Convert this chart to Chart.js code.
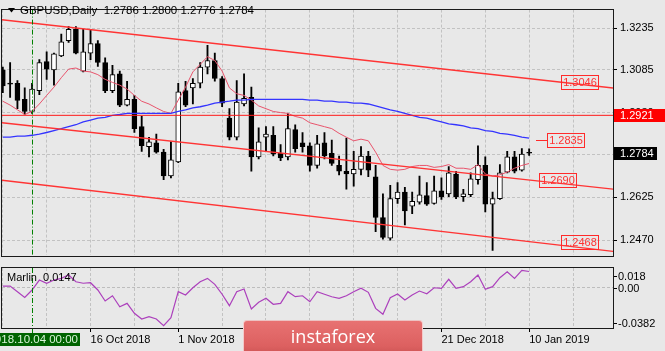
<!DOCTYPE html>
<html>
<head>
<meta charset="utf-8">
<title>GBPUSD Daily</title>
<script src="https://cdn.jsdelivr.net/npm/chart.js@4.4.1/dist/chart.umd.min.js"></script>
<style>
  html, body { margin: 0; padding: 0; background: #e8e8e8; }
  #wrap { position: relative; width: 665px; height: 351px; overflow: hidden; background: #e8e8e8; }
  canvas { position: absolute; left: 0; }
  #main { top: 0; }
  #sub { top: 265px; }
  .logo {
    position: absolute; left: 243px; top: 320px; width: 180px; height: 38px;
    box-sizing: border-box; border: 1px solid rgba(255,255,255,0.65); border-radius: 4px;
    background: linear-gradient(#e87272, #dc6060 70%, #c85050);
    color: #fff; font: 18px "Open Sans", sans-serif; text-align: center; line-height: 30px;
  }
</style>
</head>
<body>
<div id="wrap">
  <canvas id="main" width="665" height="265"></canvas>
  <canvas id="sub" width="665" height="86"></canvas>
  <div class="logo">instaforex</div>
</div>
<script>
const FONT = '"Liberation Sans", Arial, sans-serif';

// one entry per daily bar: 0 = 28 Sep 2018 ... 72 = 10 Jan 2019
const open = [1.3085, 1.3037, 1.3037, 1.2979, 1.2935, 1.3010, 1.3115, 1.3085, 1.3136, 1.3191,
  1.3232, 1.3081, 1.3146, 1.3180, 1.3112, 1.3010, 1.3071, 1.2958, 1.2979, 1.2880,
  1.2808, 1.2822, 1.2788, 1.2702, 1.2753, 1.3010, 1.3020, 1.3037, 1.3095, 1.3119,
  1.3054, 1.2911, 1.2842, 1.2962, 1.2986, 1.2771, 1.2842, 1.2849, 1.2784, 1.2771,
  1.2870, 1.2822, 1.2811, 1.2740, 1.2822, 1.2784, 1.2740, 1.2719, 1.2709, 1.2726,
  1.2774, 1.2699, 1.2552, 1.2477, 1.2620, 1.2644, 1.2593, 1.2607, 1.2631, 1.2603,
  1.2648, 1.2637, 1.2709, 1.2627, 1.2634, 1.2689, 1.2740, 1.2600, 1.2620, 1.2716,
  1.2771, 1.2723, 1.2786];
const high = [1.3095, 1.3112, 1.3047, 1.3020, 1.3037, 1.3122, 1.3150, 1.3146, 1.3215, 1.3242,
  1.3242, 1.3232, 1.3232, 1.3191, 1.3129, 1.3102, 1.3081, 1.3044, 1.2993, 1.2917,
  1.2842, 1.2853, 1.2798, 1.2825, 1.3037, 1.3044, 1.3054, 1.3112, 1.3174, 1.3146,
  1.3061, 1.2945, 1.3047, 1.3071, 1.3023, 1.2876, 1.2880, 1.2880, 1.2815, 1.2928,
  1.2887, 1.2859, 1.2822, 1.2849, 1.2859, 1.2832, 1.2774, 1.2839, 1.2791, 1.2808,
  1.2791, 1.2740, 1.2637, 1.2668, 1.2678, 1.2661, 1.2644, 1.2702, 1.2678, 1.2702,
  1.2695, 1.2736, 1.2719, 1.2654, 1.2713, 1.2811, 1.2771, 1.2644, 1.2743, 1.2791,
  1.2791, 1.2801, 1.2800];
const low = [1.3003, 1.2986, 1.2945, 1.2924, 1.2928, 1.2996, 1.3051, 1.3030, 1.3133, 1.3184,
  1.3143, 1.3078, 1.3122, 1.3098, 1.3003, 1.3003, 1.2952, 1.2955, 1.2859, 1.2791,
  1.2771, 1.2784, 1.2689, 1.2695, 1.2750, 1.2952, 1.2962, 1.3020, 1.3071, 1.3044,
  1.2952, 1.2832, 1.2832, 1.2955, 1.2719, 1.2764, 1.2791, 1.2774, 1.2757, 1.2760,
  1.2788, 1.2788, 1.2719, 1.2730, 1.2764, 1.2740, 1.2706, 1.2654, 1.2665, 1.2706,
  1.2699, 1.2501, 1.2474, 1.2470, 1.2603, 1.2525, 1.2566, 1.2600, 1.2596, 1.2600,
  1.2617, 1.2627, 1.2620, 1.2610, 1.2627, 1.2672, 1.2572, 1.2433, 1.2617, 1.2713,
  1.2713, 1.2719, 1.2776];
const close = [1.3027, 1.3034, 1.2975, 1.2935, 1.3016, 1.3112, 1.3088, 1.3143, 1.3187, 1.3232,
  1.3146, 1.3150, 1.3180, 1.3112, 1.3010, 1.3068, 1.2958, 1.2979, 1.2873, 1.2811,
  1.2825, 1.2788, 1.2702, 1.2760, 1.3006, 1.2958, 1.3037, 1.3095, 1.3119, 1.3054,
  1.2965, 1.2842, 1.2969, 1.2982, 1.2771, 1.2825, 1.2853, 1.2781, 1.2767, 1.2873,
  1.2801, 1.2808, 1.2740, 1.2818, 1.2774, 1.2747, 1.2719, 1.2709, 1.2726, 1.2774,
  1.2723, 1.2552, 1.2480, 1.2620, 1.2644, 1.2576, 1.2610, 1.2634, 1.2600, 1.2648,
  1.2627, 1.2713, 1.2627, 1.2637, 1.2692, 1.2740, 1.2600, 1.2620, 1.2713, 1.2771,
  1.2719, 1.2781, 1.2784];

// fast MA (crimson) and slow MA (blue), read per bar
const maFast = [1.2972, 1.2958, 1.2941, 1.2924, 1.2935, 1.2962, 1.2993, 1.3023, 1.3057, 1.3088,
  1.3092, 1.3081, 1.3078, 1.3068, 1.3051, 1.3040, 1.3030, 1.3016, 1.2993, 1.2972,
  1.2962, 1.2948, 1.2935, 1.2928, 1.2976, 1.3023, 1.3078, 1.3105, 1.3133, 1.3119,
  1.3081, 1.3020, 1.2999, 1.2993, 1.2976, 1.2955, 1.2945, 1.2935, 1.2931, 1.2928,
  1.2917, 1.2911, 1.2894, 1.2887, 1.2880, 1.2873, 1.2856, 1.2842, 1.2829, 1.2835,
  1.2829, 1.2788, 1.2740, 1.2726, 1.2723, 1.2726, 1.2736, 1.2740, 1.2740, 1.2733,
  1.2736, 1.2743, 1.2730, 1.2730, 1.2726, 1.2743, 1.2709, 1.2702, 1.2706, 1.2716,
  1.2730, 1.2740, 1.2747];
const maSlow = [1.2842, 1.2842, 1.2846, 1.2846, 1.2849, 1.2853, 1.2859, 1.2866, 1.2873, 1.2880,
  1.2887, 1.2897, 1.2904, 1.2911, 1.2914, 1.2921, 1.2924, 1.2928, 1.2928, 1.2928,
  1.2928, 1.2928, 1.2928, 1.2928, 1.2935, 1.2941, 1.2948, 1.2952, 1.2958, 1.2965,
  1.2969, 1.2972, 1.2976, 1.2976, 1.2979, 1.2979, 1.2979, 1.2979, 1.2979, 1.2979,
  1.2979, 1.2979, 1.2976, 1.2976, 1.2972, 1.2972, 1.2969, 1.2969, 1.2965, 1.2965,
  1.2962, 1.2955, 1.2948, 1.2941, 1.2935, 1.2928, 1.2921, 1.2914, 1.2911, 1.2904,
  1.2897, 1.2890, 1.2887, 1.2883, 1.2876, 1.2873, 1.2866, 1.2863, 1.2856, 1.2853,
  1.2849, 1.2842, 1.2839];

// Marlin oscillator
const marlin = [0.0011, 0.0011, -0.0042, -0.0095, -0.0026, 0.0067, 0.0037, 0.0067, 0.0083, 0.0114,
  0.0051, 0.0037, 0.0042, -0.0026, -0.0129, -0.0080, -0.0183, -0.0151, -0.0244, -0.0298,
  -0.0276, -0.0298, -0.0360, -0.0286, -0.0042, -0.0073, -0.0005, 0.0051, 0.0083, 0.0027,
  -0.0066, -0.0173, -0.0042, -0.0017, -0.0204, -0.0141, -0.0104, -0.0160, -0.0151, -0.0042,
  -0.0089, -0.0080, -0.0136, -0.0042, -0.0066, -0.0089, -0.0104, -0.0080, -0.0042, -0.0010,
  -0.0048, -0.0198, -0.0254, -0.0098, -0.0064, -0.0120, -0.0073, -0.0036, -0.0061, -0.0005,
  -0.0010, 0.0074, -0.0010, 0.0005, 0.0051, 0.0114, -0.0020, 0.0005, 0.0089, 0.0145,
  0.0083, 0.0158, 0.0147];

// drawn channel (two anchor points each) and levels
const channelX = [-1, 85];
const channelTop = [1.3269, 1.3015];
const channelMid = [1.2897, 1.2650];
const channelLow = [1.2689, 1.2425];
const hLevel = 1.2921;
const levelMarks = [1.3046, 1.2835, 1.2690, 1.2468];

// axes
const priceTicks = [1.2470, 1.2625, 1.2780, 1.2930, 1.3085, 1.3235];
const marlinTicks = [-0.0382, 0, 0.018];
const gridTicks = [0, 6, 12, 18, 24, 30, 36, 42, 48, 54, 60, 66, 72, 78];
const dateTickIdx = [12, 24, 36, 48, 60, 72];
const dateTickText = ['16 Oct 2018', '1 Nov 2018', '19 Nov 2018', '5 Dec 2018', '21 Dec 2018', '10 Jan 2019'];
const cursorIdx = 4;
const cursorText = '2018.10.04 00:00';

const X_MIN = -0.11, X_MAX = 83.47;
const last = close.length - 1;

// where the level boxes sit (bar index of the left edge)
const LEVEL_BOX_AT = [76.4, 74.5, 73.4, 76.4];
const LEVEL_LEAD = [false, true, false, false];

Chart.defaults.font.family = FONT;
Chart.defaults.font.size = 11;
Chart.defaults.color = '#000';

const dateLabel = v => {
  const k = dateTickIdx.indexOf(v);
  return k < 0 ? '' : dateTickText[k];
};

const xAxis = (height, showLabels) => ({
  type: 'linear', min: X_MIN, max: X_MAX, offset: false,
  afterBuildTicks: s => { s.ticks = gridTicks.map(v => ({ value: v })); },
  afterFit: s => { s.height = height; },
  grid: {
    color: '#c2c2c2', offset: false, drawTicks: showLabels, tickLength: 4,
    tickColor: c => (c.tick && dateLabel(c.tick.value)) ? '#000' : 'rgba(0,0,0,0)'
  },
  border: { display: false, dash: [3, 2] },
  ticks: {
    display: showLabels, autoSkip: false, maxRotation: 0, minRotation: 0,
    align: 'start', padding: 1, font: { size: 11 }, color: '#000',
    callback: v => dateLabel(v)
  }
});

const line = (pts, color, width, order) => ({
  type: 'line', data: pts, borderColor: color, borderWidth: width,
  pointRadius: 0, tension: 0, fill: false, order: order
});

const cursorLine = (chart, bottom) => {
  const { ctx, chartArea: a } = chart;
  const x = Math.round(chart.scales.x.getPixelForValue(cursorIdx)) + 0.5;
  ctx.save();
  ctx.strokeStyle = '#008000';
  ctx.lineWidth = 1;
  ctx.setLineDash([5, 2, 1, 2]);
  ctx.beginPath();
  ctx.moveTo(x, a.top);
  ctx.lineTo(x, bottom);
  ctx.stroke();
  ctx.restore();
  return x;
};

const frame = (chart) => {
  const { ctx, chartArea: a } = chart;
  ctx.save();
  ctx.strokeStyle = '#1a1a1a';
  ctx.lineWidth = 1;
  ctx.strokeRect(Math.round(a.left) - 0.5, Math.round(a.top) - 0.5,
    Math.round(a.right - a.left) + 1, Math.round(a.bottom - a.top) + 1);
  ctx.restore();
};

const mainDecor = {
  id: 'mainDecor',
  afterDatasetsDraw(chart) {
    const { ctx } = chart;
    const xs = chart.scales.x, ys = chart.scales.y;
    ctx.save();
    ctx.font = '11px ' + FONT;
    ctx.textAlign = 'center';
    ctx.textBaseline = 'middle';
    levelMarks.forEach((v, k) => {
      const left = Math.round(xs.getPixelForValue(LEVEL_BOX_AT[k]));
      const cy = Math.round(ys.getPixelForValue(v)) + 1;
      ctx.strokeStyle = '#ff2a2a';
      ctx.lineWidth = 1;
      ctx.strokeRect(left + 0.5, cy - 7 + 0.5, 37, 14);
      if (LEVEL_LEAD[k]) {
        ctx.beginPath();
        ctx.moveTo(left - 11, cy + 0.5);
        ctx.lineTo(left, cy + 0.5);
        ctx.stroke();
      }
      ctx.fillStyle = '#ff3030';
      ctx.fillText(v.toFixed(4), left + 19, cy + 1);
    });
    ctx.restore();
    cursorLine(chart, chart.chartArea.bottom);
  },
  afterDraw(chart) {
    const { ctx, chartArea: a } = chart;
    const ys = chart.scales.y;
    frame(chart);
    ctx.save();
    // title
    ctx.fillStyle = '#000';
    ctx.beginPath();
    ctx.moveTo(8, 8); ctx.lineTo(15, 8); ctx.lineTo(11.5, 12.5); ctx.closePath();
    ctx.fill();
    ctx.font = '11.5px ' + FONT;
    ctx.textAlign = 'left';
    ctx.textBaseline = 'middle';
    ctx.fillText('GBPUSD,Daily  ' + [open[last], high[last], low[last], close[last]]
      .map(v => v.toFixed(4)).join(' '), 20, 11);
    // axis price boxes
    ctx.font = '11px ' + FONT;
    const boxes = [[hLevel, '#ff0000', 665], [close[last], '#000000', 657]];
    boxes.forEach(([v, bg, right]) => {
      const cy = Math.round(ys.getPixelForValue(v));
      ctx.fillStyle = bg;
      ctx.fillRect(a.right + 1, cy - 6, right - a.right - 1, 13);
      ctx.fillStyle = '#fff';
      ctx.fillText(v.toFixed(4), a.right + 7, cy + 1);
    });
    ctx.restore();
  }
};

const subDecor = {
  id: 'subDecor',
  afterDatasetsDraw(chart) {
    cursorLine(chart, 68);
  },
  afterDraw(chart) {
    const { ctx, chartArea: a } = chart;
    const ys = chart.scales.y;
    frame(chart);
    ctx.save();
    ctx.font = '11px ' + FONT;
    ctx.fillStyle = '#000';
    ctx.textAlign = 'left';
    ctx.textBaseline = 'middle';
    ctx.fillText('Marlin  ' + marlin[last].toFixed(4), 7, 12.5);
    // right labels, inset like the terminal does
    const inset = { '0.018': 8, '0': 0.5, '-0.0382': -5.5 };
    marlinTicks.forEach(v => {
      const y = Math.round(ys.getPixelForValue(v) + inset[String(v)]) + 0.5;
      ctx.strokeStyle = '#000';
      ctx.lineWidth = 1;
      ctx.beginPath();
      ctx.moveTo(a.right + 1, y); ctx.lineTo(a.right + 4, y);
      ctx.stroke();
      ctx.fillText(v === 0 ? '0.00' : String(v), a.right + 5, y + 0.5);
    });
    // cursor time label (runs off the left edge, as in the terminal)
    const x = Math.round(chart.scales.x.getPixelForValue(cursorIdx));
    ctx.fillStyle = '#006400';
    ctx.fillRect(x - 50, 68, 98, 13);
    ctx.fillStyle = '#d8f5d8';
    ctx.font = '11.5px ' + FONT;
    ctx.textAlign = 'right';
    ctx.fillText(cursorText, x + 46, 75);
    ctx.restore();
  }
};

const idx = close.map((_, i) => i);

new Chart(document.getElementById('main'), {
  type: 'line',
  data: {
    datasets: [
      line(channelX.map((x, k) => ({ x: x, y: channelTop[k] })), '#ff3434', 1.4, 0),
      line(channelX.map((x, k) => ({ x: x, y: channelMid[k] })), '#ff3434', 1.4, 0),
      line(channelX.map((x, k) => ({ x: x, y: channelLow[k] })), '#ff3434', 1.4, 0),
      line(channelX.map(x => ({ x: x, y: hLevel })), '#ff1a1a', 1, 0),
      line(idx.map(i => ({ x: i, y: maSlow[i] })), 'rgb(52,52,255)', 1.3, 1),
      line(idx.map(i => ({ x: i, y: maFast[i] })), 'rgb(232,84,108)', 1, 1),
      {
        type: 'bar', order: 2, grouped: false, clip: 0,
        data: idx.map(i => ({ x: i, y: [open[i], close[i]] })),
        backgroundColor: idx.map(i => close[i] >= open[i] ? '#ffffff' : '#000000'),
        borderColor: '#000', borderWidth: 1, borderSkipped: false,
        barThickness: 5, minBarLength: 1
      },
      {
        type: 'bar', order: 3, grouped: false, clip: 0,
        data: idx.map(i => ({ x: i, y: [low[i], high[i]] })),
        backgroundColor: '#000', borderWidth: 0, barThickness: 1.2
      }
    ]
  },
  options: {
    responsive: false, animation: false, devicePixelRatio: 1, events: [],
    layout: { padding: { left: 2, top: 2, right: 0, bottom: 3 } },
    plugins: { legend: { display: false }, tooltip: { enabled: false } },
    scales: {
      x: xAxis(0, false),
      y: {
        type: 'linear', position: 'right', min: 1.2415, max: 1.3303,
        afterBuildTicks: s => { s.ticks = priceTicks.map(v => ({ value: v })); },
        afterFit: s => { s.width = 52; },
        grid: { color: '#c2c2c2', tickLength: 4, tickColor: '#000' },
        border: { display: false, dash: [3, 2] },
        ticks: { padding: 3, color: '#000', font: { size: 11 }, callback: v => v.toFixed(4) }
      }
    }
  },
  plugins: [mainDecor]
});

new Chart(document.getElementById('sub'), {
  type: 'line',
  data: {
    datasets: [
      line(idx.map(i => ({ x: i, y: marlin[i] })), 'rgb(172,64,188)', 1.2, 0)
    ]
  },
  options: {
    responsive: false, animation: false, devicePixelRatio: 1, events: [],
    layout: { padding: { left: 2, top: 3, right: 0, bottom: 0 } },
    plugins: { legend: { display: false }, tooltip: { enabled: false } },
    scales: {
      x: xAxis(23, true),
      y: {
        type: 'linear', position: 'right', min: -0.0382, max: 0.018,
        afterBuildTicks: s => { s.ticks = marlinTicks.map(v => ({ value: v })); },
        afterFit: s => { s.width = 52; },
        grid: { drawTicks: false, color: c => (c.tick && c.tick.value === 0) ? '#bdbdbd' : 'rgba(0,0,0,0)' },
        border: { display: false, dash: [3, 2] },
        ticks: { display: false }
      }
    }
  },
  plugins: [subDecor]
});
</script>
</body>
</html>
